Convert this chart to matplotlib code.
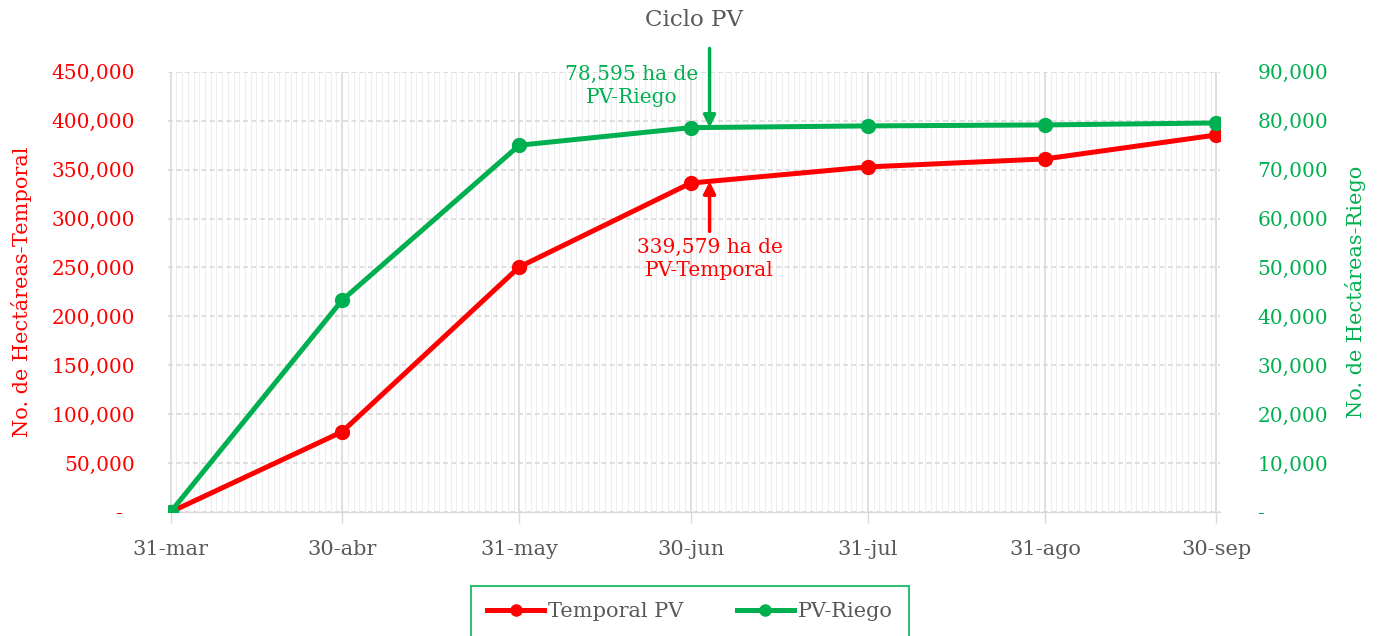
import matplotlib
matplotlib.use("Agg")
import matplotlib.pyplot as plt
import matplotlib.dates as mdates
import matplotlib.ticker as mticker
from matplotlib.lines import Line2D
import pandas as pd

# datos
fechas = ["2023-03-31", "2023-04-30", "2023-05-31", "2023-06-30",
          "2023-07-31", "2023-08-31", "2023-09-30"]
etiquetas_x = ["31-mar", "30-abr", "31-may", "30-jun", "31-jul", "31-ago", "30-sep"]
temporal = [0, 82000, 250500, 336300, 352800, 361000, 385500]
riego = [0, 43300, 75000, 78595, 78950, 79150, 79550]

ROJO = "#FF0000"
VERDE = "#00B050"
GRIS = "#595959"

plt.rcParams["font.family"] = ["DejaVu Serif"]
plt.rcParams["font.size"] = 14.5

x = pd.to_datetime(fechas)

fig, ax1 = plt.subplots(figsize=(13.8, 6.36), dpi=100)
fig.subplots_adjust(left=0.122, right=0.884, top=0.887, bottom=0.195)
ax2 = ax1.twinx()

ax1.plot(x, temporal, color=ROJO, lw=3.6, marker="o", ms=10, label="Temporal PV",
         solid_capstyle="round", zorder=3)
ax2.plot(x, riego, color=VERDE, lw=3.6, marker="o", ms=10, label="PV-Riego",
         solid_capstyle="round", zorder=3)

ax1.set_ylim(0, 450000)
ax2.set_ylim(0, 90000)
ax1.set_xlim(x[0] - pd.Timedelta(days=0.4), x[-1] + pd.Timedelta(days=0.6))

def fmt_izq(v, pos):
    return "-  " if v == 0 else f"{v:,.0f}"

def fmt_der(v, pos):
    return "-" if v == 0 else f"{v:,.0f}"

ax1.yaxis.set_major_locator(mticker.MultipleLocator(50000))
ax2.yaxis.set_major_locator(mticker.MultipleLocator(10000))
ax1.yaxis.set_major_formatter(mticker.FuncFormatter(fmt_izq))
ax2.yaxis.set_major_formatter(mticker.FuncFormatter(fmt_der))

ax1.set_xticks(x)
ax1.set_xticklabels(etiquetas_x)
ax1.xaxis.set_minor_locator(mdates.DayLocator())

ax1.tick_params(axis="y", colors=ROJO, length=0, pad=24)
ax2.tick_params(axis="y", colors=VERDE, length=0, pad=27)
ax1.tick_params(axis="x", which="major", colors="#D9D9D9", length=8, width=1,
                labelcolor=GRIS, pad=12, labelsize=15)
ax1.tick_params(axis="x", which="minor", length=0)

# rejilla
ax1.grid(axis="x", which="minor", color="#EEEEEE", lw=0.8)
ax1.grid(axis="x", which="major", color="#D9D9D9", lw=1.2)
ax1.grid(axis="y", which="major", color="#D9D9D9", lw=1.2, ls=(0, (3, 2)))
ax1.set_axisbelow(True)

for ax in (ax1, ax2):
    for s in ("top", "right", "left"):
        ax.spines[s].set_visible(False)
    ax.spines["bottom"].set_color("#D9D9D9")

ax1.set_ylabel("No. de Hectáreas-Temporal", color=ROJO, labelpad=14, fontsize=15)
ax2.set_ylabel("No. de Hectáreas-Riego", color=VERDE, labelpad=12, fontsize=15)
ax2.yaxis.label.set_rotation(90)

ax1.set_title("Ciclo PV", color=GRIS, fontsize=16.5, pad=33)

# anotaciones
x_flecha = x[3] + pd.Timedelta(days=3.3)
ax2.annotate("", xy=(x_flecha, riego[3]), xytext=(0, 57), textcoords="offset points",
             arrowprops=dict(arrowstyle="-|>", color=VERDE, lw=2.5, mutation_scale=18,
                             shrinkA=0, shrinkB=0), annotation_clip=False)
ax2.annotate("78,595 ha de\nPV-Riego", xy=(x_flecha, riego[3]), xytext=(-56, 30),
             textcoords="offset points", ha="center", va="center", color=VERDE,
             linespacing=1.3, annotation_clip=False)

y_temp = temporal[3] + (temporal[4] - temporal[3]) * 3.3 / 31
ax1.annotate("", xy=(x_flecha, y_temp), xytext=(0, -36), textcoords="offset points",
             arrowprops=dict(arrowstyle="-|>", color=ROJO, lw=2.5, mutation_scale=18,
                             shrinkA=0, shrinkB=0))
ax1.annotate("339,579 ha de\nPV-Temporal", xy=(x_flecha, y_temp), xytext=(0, -56),
             textcoords="offset points", ha="center", va="center", color=ROJO,
             linespacing=1.3)

# leyenda
handles = [Line2D([], [], color=ROJO, lw=3.6, marker="o", ms=8),
           Line2D([], [], color=VERDE, lw=3.6, marker="o", ms=8)]
leg = fig.legend(handles, ["Temporal PV", "PV-Riego"], loc="lower center",
                 bbox_to_anchor=(0.5, -0.003), ncol=2, frameon=True, fancybox=False,
                 edgecolor=VERDE, handlelength=2.7, handletextpad=0.2,
                 columnspacing=2.6, borderpad=0.8, borderaxespad=0, fontsize=15)
for t in leg.get_texts():
    t.set_color(GRIS)
leg.get_frame().set_linewidth(1.5)

fig.savefig("out.png", dpi=100)
